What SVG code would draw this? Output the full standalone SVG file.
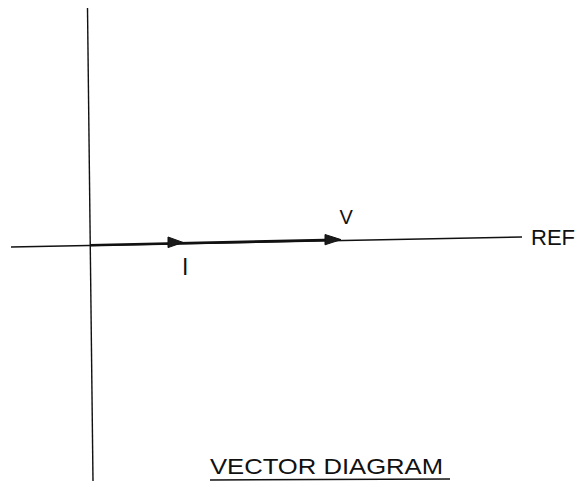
<svg xmlns="http://www.w3.org/2000/svg" width="581" height="487" viewBox="0 0 581 487">
  <style>
    .axis { stroke: #111; stroke-width: 1.4; fill: none; stroke-linecap: butt; }
    .vec { stroke: #111; stroke-width: 2.6; fill: none; }
    .head { fill: #1a1a1a; stroke: #111; stroke-width: 1; stroke-linejoin: miter; }
    .lbl { font-family: "Liberation Sans", Arial, sans-serif; fill: #111; }
  </style>
  <rect width="581" height="487" fill="#ffffff"/>
  <g id="axes">
    <line class="axis" x1="87.5" y1="8" x2="93" y2="481"/>
    <line class="axis" x1="11" y1="247" x2="522" y2="237"/>
  </g>
  <g id="connectors">
    <line id="vec-V" class="vec" x1="90" y1="245.3" x2="336" y2="239.8"/>
    <polygon id="head-I" class="head" points="168,237 183,242.4 168,247.6"/>
    <polygon id="head-V" class="head" points="325,234.5 341,239.6 325,244.8"/>
  </g>
  <g id="label-V">
    <text class="lbl" x="339.5" y="224" font-size="20">V</text>
  </g>
  <g id="label-I">
    <text class="lbl" x="182" y="275" font-size="23">I</text>
  </g>
  <g id="label-REF">
    <text class="lbl" x="531" y="245" font-size="22">REF</text>
  </g>
  <g id="title">
    <text class="lbl" x="210" y="473.5" font-size="22" textLength="233" lengthAdjust="spacingAndGlyphs">VECTOR DIAGRAM</text>
    <line x1="210" y1="480" x2="450" y2="479" stroke="#111" stroke-width="1.5"/>
  </g>
</svg>
